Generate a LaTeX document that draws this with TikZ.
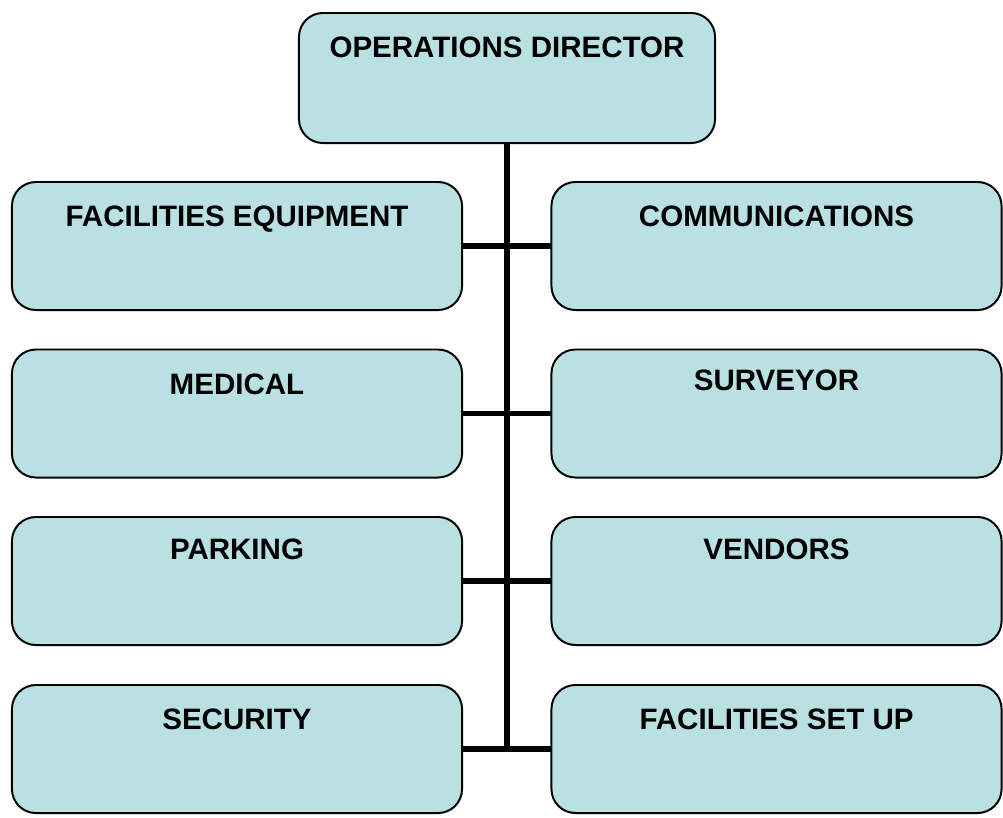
\documentclass[tikz,border=0pt]{standalone}
\usepackage{fontspec}
\setmainfont{Liberation Sans}
\usetikzlibrary{calc}
\definecolor{boxblue}{RGB}{185,224,227}
\tikzset{
	unit/.style={draw=black, line width=1.4pt, fill=boxblue, rounded corners=0.6cm, inner sep=0pt, outer sep=0pt, minimum width=11.25cm, minimum height=3.2cm},
	title/.style={anchor=base, inner sep=0pt, font=\fontsize{21}{25}\selectfont\bfseries},
	link/.style={line width=4.2pt}
}

\begin{document}
\begin{tikzpicture}[x=0.025cm, y=-0.025cm]
			%%%%% START %%%%%
			
			\useasboundingbox (0, 0) rectangle (1003, 817);
			
			\node[unit, minimum width=10.4cm, minimum height=3.25cm] (od) at (507, 78) {};
			\node[title] (od-t) at ($(od.north)+(0, 45)$) {OPERATIONS DIRECTOR};
			
			\node[unit] (fe) at (237, 246) {};
			\node[title] (fe-t) at ($(fe.north)+(0, 45)$) {FACILITIES EQUIPMENT};
			\node[unit] (co) at (776.5, 246) {};
			\node[title] (co-t) at ($(co.north)+(0, 45)$) {COMMUNICATIONS};
			
			\node[unit] (me) at (237, 413.5) {};
			\node[title] (me-t) at ($(me.north)+(0, 45)$) {MEDICAL};
			\node[unit] (su) at (776.5, 413.5) {};
			\node[title] (su-t) at ($(su.north)+(0, 41)$) {SURVEYOR};
			
			\node[unit] (pa) at (237, 581) {};
			\node[title] (pa-t) at ($(pa.north)+(0, 43)$) {PARKING};
			\node[unit] (ve) at (776.5, 581) {};
			\node[title] (ve-t) at ($(ve.north)+(0, 43)$) {VENDORS};
			
			\node[unit] (se) at (237, 749) {};
			\node[title] (se-t) at ($(se.north)+(0, 44)$) {SECURITY};
			\node[unit] (fs) at (776.5, 749) {};
			\node[title] (fs-t) at ($(fs.north)+(0, 44)$) {FACILITIES SET UP};
			
			\draw[link] (od.south) -- (od.south |- fs.west);
			\draw[link] (fe.east) -- (co.west);
			\draw[link] (me.east) -- (su.west);
			\draw[link] (pa.east) -- (ve.west);
			\draw[link] (se.east) -- (fs.west);
			
			%%%%% END %%%%%
		\end{tikzpicture}
\end{document}
